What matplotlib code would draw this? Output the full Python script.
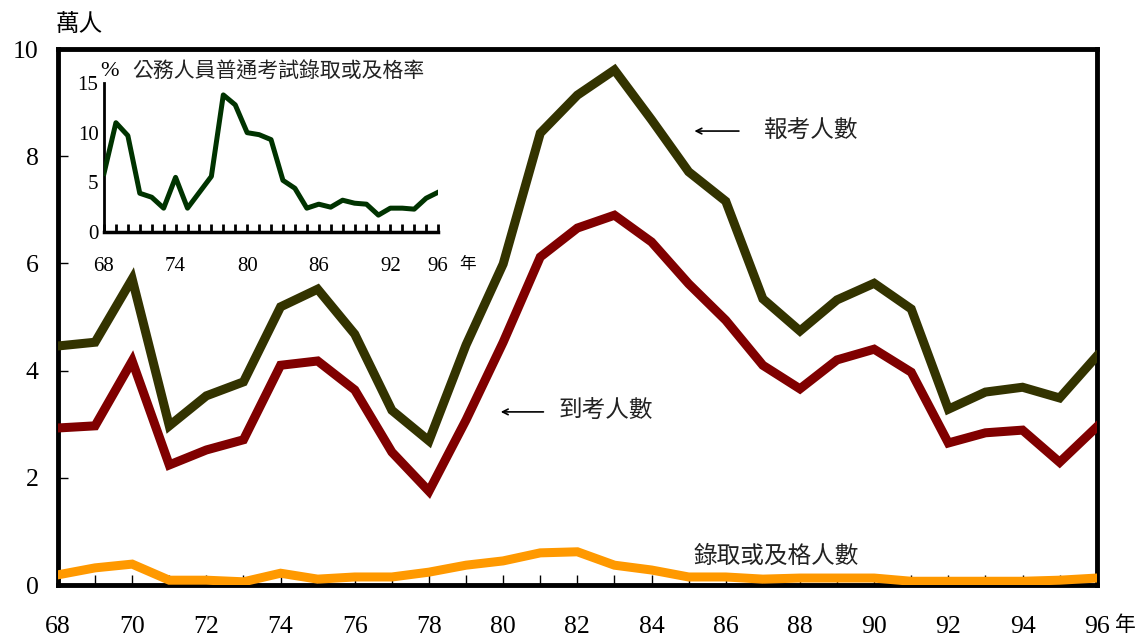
import matplotlib
matplotlib.use("Agg")
import matplotlib.pyplot as plt
import numpy as np

# data
years = list(range(68, 97))
applicants = [4.46, 4.53, 5.71, 2.97, 3.53, 3.79, 5.19, 5.52, 4.68, 3.26,
              2.69, 4.48, 5.99, 8.43, 9.14, 9.61, 8.68, 7.71, 7.16, 5.34,
              4.74, 5.32, 5.63, 5.15, 3.28, 3.60, 3.69, 3.49, 4.27]
attendees = [2.93, 2.97, 4.18, 2.24, 2.52, 2.71, 4.10, 4.18, 3.64, 2.48,
             1.75, 3.08, 4.53, 6.12, 6.66, 6.90, 6.40, 5.62, 4.94, 4.10,
             3.66, 4.20, 4.40, 3.97, 2.65, 2.84, 2.89, 2.29, 2.95]
passed = [0.19, 0.32, 0.39, 0.09, 0.09, 0.06, 0.22, 0.11, 0.15, 0.15,
          0.24, 0.37, 0.45, 0.60, 0.62, 0.37, 0.28, 0.15, 0.15, 0.11,
          0.13, 0.13, 0.13, 0.07, 0.07, 0.07, 0.07, 0.09, 0.13]
pass_rate = [5.9, 11.0, 9.7, 3.9, 3.5, 2.4, 5.5, 2.4, 4.0, 5.6,
             13.8, 12.8, 10.0, 9.8, 9.3, 5.2, 4.4, 2.4, 2.8, 2.5,
             3.2, 2.9, 2.8, 1.7, 2.4, 2.4, 2.3, 3.4, 4.0]

main_ticks = list(range(68, 97, 2))
inset_ticks = [68, 74, 80, 86, 92, 96]

NUM = ["Liberation Serif", "Noto Sans CJK TC"]
CJK = ["Noto Sans CJK TC", "DejaVu Sans"]

fig = plt.figure(figsize=(11.39, 6.37), dpi=100)

# main chart
ax = fig.add_axes([0.0509, 0.0816, 0.912, 0.8414])
ax.plot(years, applicants, color="#333300", lw=6.5, solid_joinstyle="miter", zorder=3)
ax.plot(years, attendees, color="#800000", lw=6.5, solid_joinstyle="miter", zorder=3)
ax.plot(years, passed, color="#FF9900", lw=6.5, solid_joinstyle="miter", zorder=3)
ax.set_xlim(68, 96)
ax.set_ylim(0, 10)
ax.set_xticks(main_ticks)
ax.set_xticks(years, minor=True)
ax.set_xticklabels([str(t) for t in main_ticks])
ax.set_yticks(range(0, 11, 2))
for s in ax.spines.values():
    s.set_linewidth(3.5)
ax.tick_params(axis="both", which="both", direction="in", length=7, width=1)
ax.tick_params(axis="x", pad=22)
ax.tick_params(axis="y", pad=14)
for lab in ax.get_xticklabels() + ax.get_yticklabels():
    lab.set_family(NUM)
    lab.set_fontsize(18.5)

ax.text(-0.002, 1.045, "萬人", transform=ax.transAxes, family=CJK, fontsize=17,
        ha="left", va="center")
ax.annotate("年", xy=(1, 0), xycoords="axes fraction", xytext=(29, -40),
            textcoords="offset pixels", family=CJK, fontsize=15, ha="center", va="center")

# labels with arrows
ax.annotate("", xy=(85.08, 8.47), xytext=(86.43, 8.47),
            arrowprops=dict(arrowstyle="->", lw=1.2, color="black"))
ax.text(87.03, 8.47, "報考人數", family=CJK, fontsize=17, color="#222222",
        ha="left", va="center")
ax.annotate("", xy=(79.86, 3.23), xytext=(81.16, 3.23),
            arrowprops=dict(arrowstyle="->", lw=1.2, color="black"))
ax.text(81.49, 3.23, "到考人數", family=CJK, fontsize=17, color="#222222",
        ha="left", va="center")
ax.text(85.14, 0.54, "錄取或及格人數", family=CJK, fontsize=17, color="#222222",
        ha="left", va="center")

# inset: pass rate
ins = fig.add_axes([0.0913, 0.6358, 0.2933, 0.2339])
ins.plot(years, pass_rate, color="#003300", lw=3.6, zorder=3)
ins.set_xlim(68, 96)
ins.set_ylim(0, 15)
ins.set_xticks(years)
ins.set_xticklabels([str(y) if y in inset_ticks else "" for y in years])
ins.set_yticks([0, 5, 10, 15])
ins.spines["top"].set_visible(False)
ins.spines["right"].set_visible(False)
ins.spines["left"].set_linewidth(2)
ins.spines["bottom"].set_linewidth(2.5)
ins.tick_params(axis="x", direction="in", length=6, width=2, pad=18)
ins.tick_params(axis="y", direction="in", length=0, pad=4)
for lab in ins.get_xticklabels() + ins.get_yticklabels():
    lab.set_family(NUM)
    lab.set_fontsize(15)
ins.annotate("年", xy=(1, 0), xycoords="axes fraction", xytext=(29, -33),
             textcoords="offset pixels", family=CJK, fontsize=12, ha="center", va="center")
ins.text(-0.01, 1.08, "%", transform=ins.transAxes, family=NUM, fontsize=16,
         ha="left", va="center")
ins.text(0.085, 1.08, "公務人員普通考試錄取或及格率", transform=ins.transAxes,
         family=CJK, fontsize=15, color="#222222", ha="left", va="center")

fig.savefig("out.png", dpi=100)
